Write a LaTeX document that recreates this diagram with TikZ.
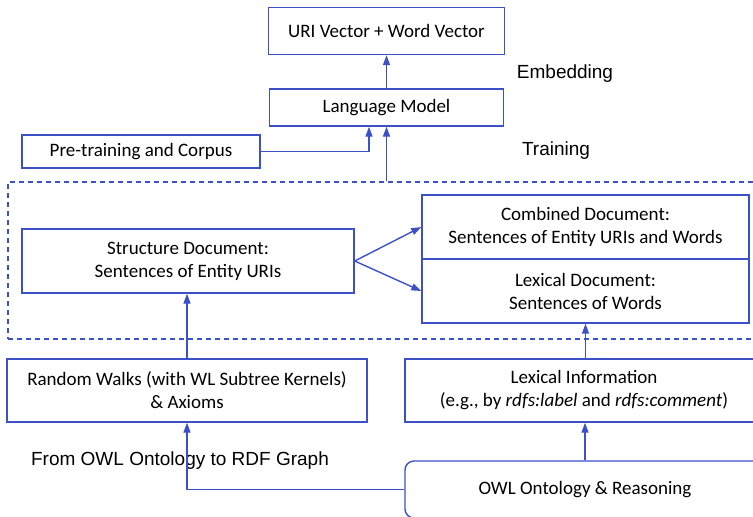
\documentclass[tikz,border=0pt]{standalone}
\usepackage{fontspec}
\setmainfont{Carlito}
\newfontfamily\labelfont{Liberation Sans}
\usetikzlibrary{arrows.meta}
\definecolor{linkblue}{RGB}{60,80,200}
\tikzset{
  stagebox/.style={draw=linkblue, line width=1.4pt, fill=white, align=center,
    inner sep=0pt, font=\fontsize{19}{23}\selectfont},
  flow/.style={draw=linkblue, line width=1.4pt, -{Triangle[length=10pt,width=7pt]}},
  phase/.style={font=\labelfont\fontsize{19}{23}\selectfont, inner sep=0pt}
}
\begin{document}
\begin{tikzpicture}[x=1pt, y=-1pt]
  \useasboundingbox (0,0) rectangle (753,517);
  \clip (0,0) rectangle (753,517);
  % document stage
  \node[draw=linkblue, dash pattern=on 5pt off 4pt, line width=1.4pt,
    minimum width=762pt, minimum height=157pt] (docs) at (389,260.5) {};
  \node[stagebox, minimum width=332pt, minimum height=64pt] (struct) at (188,261)
    {Structure Document:\\Sentences of Entity URIs};
  \node[stagebox, minimum width=327pt, minimum height=64pt] (comb) at (585.5,227)
    {Combined Document:\\Sentences of Entity URIs and Words};
  \node[stagebox, minimum width=327pt, minimum height=64pt] (lexdoc) at (585.5,291)
    {Lexical Document:\\Sentences of Words};
  % training and embedding
  \node[stagebox, minimum width=236pt, minimum height=47pt] (vec) at (386.5,31)
    {URI Vector + Word Vector};
  \node[stagebox, minimum width=234pt, minimum height=37pt] (lm) at (386.5,107.5)
    {Language Model};
  \node[stagebox, minimum width=238pt, minimum height=33pt] (pre) at (141,151.5)
    {Pre-training and Corpus};
  % sources
  \node[stagebox, minimum width=360pt, minimum height=63pt] (walks) at (187,390.5)
    {Random Walks (with WL Subtree Kernels)\\\& Axioms};
  \node[stagebox, minimum width=358pt, minimum height=63pt] (lexinfo) at (584,390.5)
    {Lexical Information\\(e.g., by \textit{rdfs:label} and \textit{rdfs:comment})};
  \node[stagebox, rounded corners=9pt, minimum width=360pt, minimum height=57pt]
    (owl) at (585,489.5) {OWL Ontology \& Reasoning};
  % labels
  \node[phase] (embed) at (565,74) {Embedding};
  \node[phase] (train) at (556,151) {Training};
  \node[phase] (rdf) at (180,461) {From OWL Ontology to RDF Graph};
  % connectors
  \draw[flow] (lm.north) -- (vec.south);
  \draw[flow] (lm.south |- docs.north) -- (lm.south);
  \draw[flow] (pre.east) -| ([xshift=-17.5pt]lm.south);
  \draw[flow] (struct.east) -- (comb.west);
  \draw[flow] (struct.east) -- (lexdoc.west);
  \draw[flow] (walks.north) -- (walks.north |- struct.south);
  \draw[flow] (lexdoc.south |- lexinfo.north) -- (lexdoc.south);
  \draw[flow] (owl.north) -- (owl.north |- lexinfo.south);
  \draw[flow] (owl.west) -| (walks.south);
\end{tikzpicture}
\end{document}
